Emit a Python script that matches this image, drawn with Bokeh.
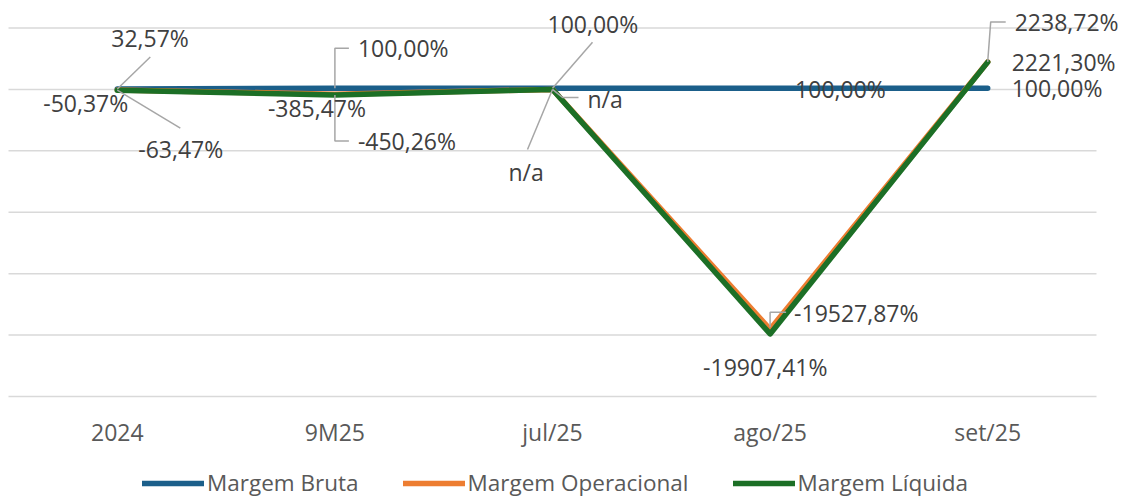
from bokeh.plotting import figure
from bokeh.models import (Range1d, FixedTicker, ColumnDataSource, LabelSet,
                          Legend, LegendItem)
from bokeh.core.properties import value
from bokeh.embed import file_html
from bokeh.resources import INLINE

# ---- data ----
categories = ["2024", "9M25", "jul/25", "ago/25", "set/25"]
margem_bruta = [32.57, 100.00, 100.00, 100.00, 100.00]
margem_operacional = [-50.37, -385.47, 0.0, -19527.87, 2238.72]
margem_liquida = [-63.47, -450.26, 0.0, -19907.41, 2221.30]
labels_bruta = ["32,57%", "100,00%", "100,00%", "100,00%", "100,00%"]
labels_operacional = ["-50,37%", "-385,47%", "n/a", "-19527,87%", "2238,72%"]
labels_liquida = ["-63,47%", "-450,26%", "n/a", "-19907,41%", "2221,30%"]
y_ticks = [-25000, -20000, -15000, -10000, -5000, 0, 5000]

BLUE, ORANGE, GREEN = "#1B5F8A", "#ED7D31", "#1C6F26"
FONT = "Open Sans"

W, H = 1122, 499
XPX = 217.6                      # px per category
YPX = 368.5 / 30000.0            # px per unit of y
X0 = -0.5 - 8 / XPX
Y1 = 5000 + 27.5 / YPX
Y0 = Y1 - H / YPX
n = len(categories)

p = figure(width=W, height=H, output_backend="svg", toolbar_location=None,
           x_range=Range1d(X0, X0 + W / XPX), y_range=Range1d(Y0, Y1),
           min_border=0, min_border_left=0, min_border_top=0,
           min_border_right=0, min_border_bottom=0)
p.outline_line_color = None
p.background_fill_color = "white"
p.border_fill_color = "white"

p.yaxis.visible = False
p.xgrid.visible = False
p.ygrid.visible = False
# horizontal gridlines spanning the category bands
p.segment(x0=[-0.5] * len(y_ticks), x1=[n - 0.5] * len(y_ticks),
          y0=y_ticks, y1=y_ticks, line_color="#D9D9D9", line_width=1.5)

xa = p.xaxis[0]
xa.fixed_location = min(y_ticks)
xa.ticker = FixedTicker(ticks=list(range(n)))
xa.major_label_overrides = {i: c for i, c in enumerate(categories)}
xa.axis_line_color = None
xa.major_tick_line_color = None
xa.minor_tick_line_color = None
xa.major_label_standoff = 13
xa.major_label_text_font = FONT
xa.major_label_text_font_size = "23px"
xa.major_label_text_color = "#595959"

xs = list(range(n))
series = [
    ("Margem Bruta", margem_bruta, labels_bruta, BLUE),
    ("Margem Operacional", margem_operacional, labels_operacional, ORANGE),
    ("Margem Líquida", margem_liquida, labels_liquida, GREEN),
]

renderers = []
for name, vals, _, col in series:
    r = p.line(xs, vals, line_color=col, line_width=5.5,
               line_cap="round", line_join="round")
    renderers.append((name, r))

# label placement offsets (screen px, y down) per series per category
label_offsets = {
    "Margem Bruta": [(-6, -51), (23, -40), (-5, -64), (25, 1), (24, 0)],
    "Margem Operacional": [(-74, 13), (-67, 14), (35, 10), (24, -16), (27, -40)],
    "Margem Líquida": [(21, 59), (23, 46), (-44, 83), (-67, 33), (24, 0)],
}
# leader lines (screen px offsets relative to point, y down)
leaders = {
    ("Margem Bruta", 0): [(0, 0), (33, -32)],
    ("Margem Líquida", 0): [(0, 0), (63, 38)],
    ("Margem Bruta", 1): [(0, 0), (0, -40), (14, -40)],
    ("Margem Líquida", 1): [(0, 0), (0, 46), (14, 46)],
    ("Margem Bruta", 2): [(0, 0), (40, -46)],
    ("Margem Operacional", 2): [(0, 0), (10, 8), (26, 8)],
    ("Margem Líquida", 2): [(0, 0), (-25, 60)],
    ("Margem Operacional", 3): [(0, -2), (0, -17), (16, -17)],
    ("Margem Operacional", 4): [(0, 0), (3, -40), (18, -40)],
}

lx, ly, ltxt, ldx, ldy = [], [], [], [], []
mlx, mly = [], []
for name, vals, labs, col in series:
    for i, (v, t) in enumerate(zip(vals, labs)):
        dx, dy = label_offsets[name][i]
        lx.append(i); ly.append(v); ltxt.append(t)
        ldx.append(dx); ldy.append(-dy)
        if (name, i) in leaders:
            pts = leaders[(name, i)]
            mlx.append([i + px / XPX for px, _ in pts])
            mly.append([v - py / YPX for _, py in pts])

p.multi_line(mlx, mly, line_color="#A6A6A6", line_width=1.5)

src = ColumnDataSource(dict(x=lx, y=ly, text=ltxt, dx=ldx, dy=ldy))
labels = LabelSet(x="x", y="y", text="text", x_offset="dx", y_offset="dy",
                  source=src, text_font=value(FONT), text_font_size=value("23px"),
                  text_color=value("#404040"), text_align="left",
                  text_baseline="middle")
p.add_layout(labels)

legend = Legend(items=[LegendItem(label=nm, renderers=[r]) for nm, r in renderers],
                orientation="horizontal", location=(142, 1),
                glyph_width=62, glyph_height=22, label_standoff=3, spacing=44,
                padding=0, margin=0, border_line_color=None,
                background_fill_alpha=0,
                label_text_font=FONT, label_text_font_size="22.5px",
                label_text_color="#595959")
p.add_layout(legend)

open("out.html", "w").write(file_html(p, INLINE))
